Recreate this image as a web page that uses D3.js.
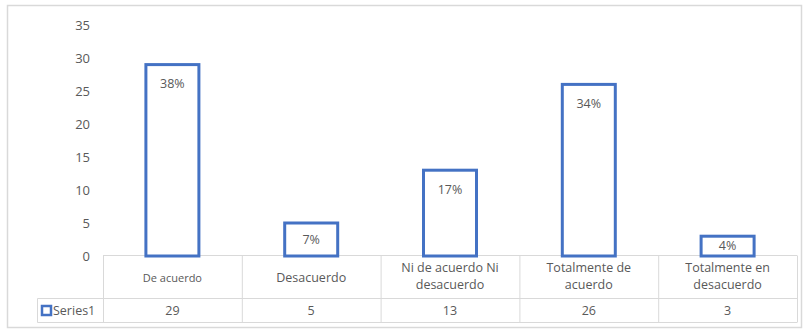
<!DOCTYPE html>
<html>
<head>
<meta charset="utf-8">
<script src="https://cdn.jsdelivr.net/npm/d3@7"></script>
<style>
  html, body { margin: 0; padding: 0; background: #fff; }
  svg { display: block; }
  text { font-family: "Open Sans", "Noto Sans", sans-serif; fill: #595959; }
</style>
</head>
<body>
<svg id="chart" width="803" height="329"></svg>
<script>
// Chart data
const categories = [
  ["De acuerdo"],
  ["Desacuerdo"],
  ["Ni de acuerdo Ni", "desacuerdo"],
  ["Totalmente de", "acuerdo"],
  ["Totalmente en", "desacuerdo"]
];
const seriesName = "Series1";
const values = [29, 5, 13, 26, 3];
const yTicks = [0, 5, 10, 15, 20, 25, 30, 35];

const svg = d3.select("#chart");
const blue = "#4472C4";
const gridGray = "#d9d9d9";

// Outer chart frame
svg.append("rect")
  .attr("x", 7.5).attr("y", 5.5)
  .attr("width", 794).attr("height", 322)
  .attr("fill", "none").attr("stroke", "#d9d9d9").attr("stroke-width", 1.5);

const plotLeft = 103, plotRight = 797;
const tableTop = 255.5, rowSplit = 298.5, tableBottom = 322.5, legendLeft = 37.5;

const x = d3.scaleBand()
  .domain(d3.range(values.length))
  .range([plotLeft, plotRight])
  .paddingInner(0).paddingOuter(0);

const y = d3.scaleLinear().domain([0, 35]).range([256, 25]);

// Value axis
const yAxis = d3.axisLeft(y).tickValues(yTicks).tickSize(0).tickPadding(0);
const gy = svg.append("g").attr("transform", "translate(90,0)").call(yAxis);
gy.select(".domain").remove();
gy.selectAll("text")
  .style("font-size", "13px")
  .attr("fill", "#595959")
  .attr("dy", "0.35em");

// Data table below the plot (drawn first so the bars sit on top)
const table = svg.append("g").attr("stroke", gridGray).attr("stroke-width", 1);
table.append("line").attr("x1", plotLeft).attr("x2", plotRight).attr("y1", tableTop).attr("y2", tableTop);
table.append("line").attr("x1", legendLeft).attr("x2", plotRight).attr("y1", rowSplit).attr("y2", rowSplit);
table.append("line").attr("x1", legendLeft).attr("x2", plotRight).attr("y1", tableBottom).attr("y2", tableBottom);
table.append("line").attr("x1", legendLeft).attr("x2", legendLeft).attr("y1", rowSplit).attr("y2", tableBottom);
table.selectAll("line.col")
  .data(d3.range(values.length + 1))
  .join("line")
  .attr("class", "col")
  .attr("x1", i => (i < values.length ? x(i) : plotRight) + 0.5)
  .attr("x2", i => (i < values.length ? x(i) : plotRight) + 0.5)
  .attr("y1", tableTop).attr("y2", tableBottom);

// Bars
const barW = 53;
const total = d3.sum(values);
const bars = svg.append("g");
bars.selectAll("rect")
  .data(values)
  .join("rect")
  .attr("x", (d, i) => x(i) + x.bandwidth() / 2 - barW / 2)
  .attr("y", d => y(d))
  .attr("width", barW)
  .attr("height", d => y(0) - y(d))
  .attr("fill", "#fff")
  .attr("stroke", blue)
  .attr("stroke-width", 3);

// Percentage labels inside the bar tops
bars.selectAll("text")
  .data(values)
  .join("text")
  .attr("x", (d, i) => x(i) + x.bandwidth() / 2)
  .attr("y", d => y(d) + Math.min(19, (y(0) - y(d)) / 2))
  .attr("dy", "0.35em")
  .attr("text-anchor", "middle")
  .style("font-size", "12.5px")
  .attr("fill", "#404040")
  .text(d => Math.round(d / total * 100) + "%");

// Category labels
const catG = svg.append("g");
categories.forEach((lines, i) => {
  const cx = x(i) + x.bandwidth() / 2;
  const t = catG.append("text")
    .attr("text-anchor", "middle")
    .style("font-size", i === 0 ? "11px" : "12.5px");
  const startY = lines.length === 1 ? 278 : 268;
  lines.forEach((ln, k) => {
    t.append("tspan")
      .attr("x", cx)
      .attr("y", startY + k * 16.5)
      .attr("dy", "0.35em")
      .text(ln);
  });
});

// Value row
svg.append("g").selectAll("text")
  .data(values)
  .join("text")
  .attr("x", (d, i) => x(i) + x.bandwidth() / 2)
  .attr("y", 311)
  .attr("dy", "0.35em")
  .attr("text-anchor", "middle")
  .style("font-size", "12.5px")
  .text(d => d);

// Legend key in the table
svg.append("rect")
  .attr("x", 42).attr("y", 306)
  .attr("width", 9).attr("height", 9)
  .attr("fill", "#fff").attr("stroke", blue).attr("stroke-width", 2.5);
svg.append("text")
  .attr("x", 53).attr("y", 311)
  .attr("dy", "0.35em")
  .style("font-size", "12.5px")
  .text(seriesName);
</script>
</body>
</html>
